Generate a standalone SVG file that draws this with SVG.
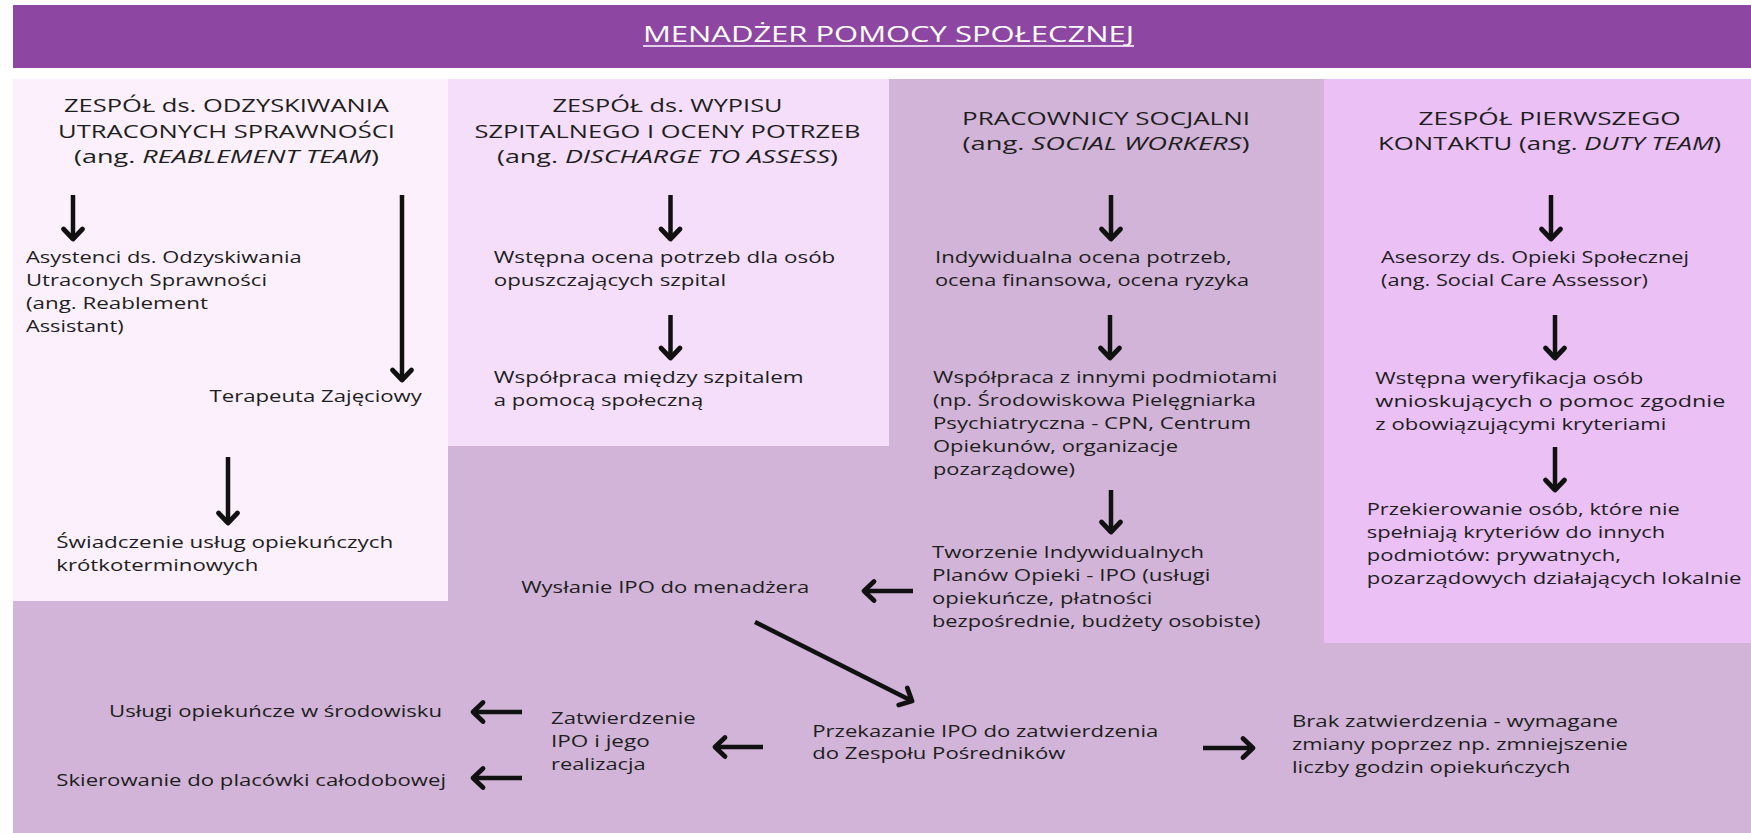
<svg xmlns="http://www.w3.org/2000/svg" width="1751" height="833" viewBox="0 0 1751 833">
  <defs>
    <style>
      .t { font-family: "Open Sans", "Liberation Sans", sans-serif; font-size: 17px; fill: #1e1e1e; }
      .h { font-family: "Open Sans", "Liberation Sans", sans-serif; font-size: 18px; fill: #1e1e1e; text-anchor: middle; }
      .i { font-style: italic; }
      .title { font-family: "Open Sans", "Liberation Sans", sans-serif; font-size: 21px; fill: #ffffff; text-anchor: middle; }
      .arr { fill: none; stroke: #111; stroke-width: 4.5; marker-end: url(#head); }
    </style>
    <marker id="head" markerUnits="userSpaceOnUse" markerWidth="30" markerHeight="30" viewBox="-15 -15 30 30" refX="0" refY="0" orient="auto">
      <path d="M-10,-9.5 L0,0 L-10,9.5" fill="none" stroke="#111" stroke-width="4.8" stroke-linecap="round" stroke-linejoin="round"/>
    </marker>
  </defs>

  <!-- page background and column panels -->
  <g id="panels">
    <rect x="0" y="0" width="1751" height="833" fill="#ffffff"/>
    <rect x="13" y="79" width="1738" height="754" fill="#d1b4d7"/>
    <rect x="13" y="79" width="435" height="522" fill="#fbf0fc"/>
    <rect x="448" y="79" width="441" height="367" fill="#f5defa"/>
    <rect x="1324" y="79" width="427" height="564" fill="#eac0f5"/>
  </g>

  <!-- header band -->
  <g id="manager">
    <rect x="13" y="5" width="1738" height="63" fill="#8e46a3"/>
    <text class="title" x="888.5" y="42" textLength="491" lengthAdjust="spacingAndGlyphs">MENADŻER POMOCY SPOŁECZNEJ</text>
    <line x1="643" y1="46" x2="1134" y2="46" stroke="#ffffff" stroke-width="1.6"/>
  </g>

  <!-- column headings -->
  <g id="reablement-team">
    <text class="h" x="226.5" y="112" textLength="325" lengthAdjust="spacingAndGlyphs">ZESPÓŁ ds. ODZYSKIWANIA</text>
    <text class="h" x="226.5" y="138" textLength="337" lengthAdjust="spacingAndGlyphs">UTRACONYCH SPRAWNOŚCI</text>
    <text class="h" x="226.5" y="163" textLength="305" lengthAdjust="spacingAndGlyphs">(ang. <tspan class="i">REABLEMENT TEAM</tspan>)</text>
  </g>
  <g id="discharge-team">
    <text class="h" x="667.5" y="112" textLength="230" lengthAdjust="spacingAndGlyphs">ZESPÓŁ ds. WYPISU</text>
    <text class="h" x="667.5" y="138" textLength="386" lengthAdjust="spacingAndGlyphs">SZPITALNEGO I OCENY POTRZEB</text>
    <text class="h" x="667.5" y="163" textLength="341" lengthAdjust="spacingAndGlyphs">(ang. <tspan class="i">DISCHARGE TO ASSESS</tspan>)</text>
  </g>
  <g id="social-workers">
    <text class="h" x="1106" y="125" textLength="288" lengthAdjust="spacingAndGlyphs">PRACOWNICY SOCJALNI</text>
    <text class="h" x="1106" y="150" textLength="287" lengthAdjust="spacingAndGlyphs">(ang. <tspan class="i">SOCIAL WORKERS</tspan>)</text>
  </g>
  <g id="duty-team">
    <text class="h" x="1549.6" y="125" textLength="262" lengthAdjust="spacingAndGlyphs">ZESPÓŁ PIERWSZEGO</text>
    <text class="h" x="1549.6" y="150" textLength="343" lengthAdjust="spacingAndGlyphs">KONTAKTU (ang. <tspan class="i">DUTY TEAM</tspan>)</text>
  </g>

  <!-- column 1 -->
  <g id="reablement-assistant">
    <text class="t" x="26" y="263" textLength="275.6" lengthAdjust="spacingAndGlyphs">Asystenci ds. Odzyskiwania</text>
    <text class="t" x="26" y="286" textLength="241" lengthAdjust="spacingAndGlyphs">Utraconych Sprawności</text>
    <text class="t" x="26" y="309" textLength="182" lengthAdjust="spacingAndGlyphs">(ang. Reablement</text>
    <text class="t" x="26" y="332" textLength="97.6" lengthAdjust="spacingAndGlyphs">Assistant)</text>
  </g>
  <g id="occupational-therapist">
    <text class="t" x="209.5" y="402" textLength="212.4" lengthAdjust="spacingAndGlyphs">Terapeuta Zajęciowy</text>
  </g>
  <g id="short-term-care">
    <text class="t" x="56.3" y="548" textLength="337" lengthAdjust="spacingAndGlyphs">Świadczenie usług opiekuńczych</text>
    <text class="t" x="56.3" y="571" textLength="202" lengthAdjust="spacingAndGlyphs">krótkoterminowych</text>
  </g>

  <!-- column 2 -->
  <g id="discharge-assessment">
    <text class="t" x="493.7" y="263" textLength="341.6" lengthAdjust="spacingAndGlyphs">Wstępna ocena potrzeb dla osób</text>
    <text class="t" x="493.7" y="286" textLength="232.5" lengthAdjust="spacingAndGlyphs">opuszczających szpital</text>
  </g>
  <g id="hospital-cooperation">
    <text class="t" x="493.7" y="383" textLength="310" lengthAdjust="spacingAndGlyphs">Współpraca między szpitalem</text>
    <text class="t" x="493.7" y="406" textLength="209.5" lengthAdjust="spacingAndGlyphs">a pomocą społeczną</text>
  </g>

  <!-- column 3 -->
  <g id="individual-assessment">
    <text class="t" x="935" y="263" textLength="296.8" lengthAdjust="spacingAndGlyphs">Indywidualna ocena potrzeb,</text>
    <text class="t" x="935" y="286" textLength="314" lengthAdjust="spacingAndGlyphs">ocena finansowa, ocena ryzyka</text>
  </g>
  <g id="partner-cooperation">
    <text class="t" x="933" y="383" textLength="344.4" lengthAdjust="spacingAndGlyphs">Współpraca z innymi podmiotami</text>
    <text class="t" x="933" y="406" textLength="323" lengthAdjust="spacingAndGlyphs">(np. Środowiskowa Pielęgniarka</text>
    <text class="t" x="933" y="429" textLength="318" lengthAdjust="spacingAndGlyphs">Psychiatryczna - CPN, Centrum</text>
    <text class="t" x="933" y="452" textLength="245" lengthAdjust="spacingAndGlyphs">Opiekunów, organizacje</text>
    <text class="t" x="933" y="475" textLength="142" lengthAdjust="spacingAndGlyphs">pozarządowe)</text>
  </g>
  <g id="care-plans">
    <text class="t" x="932" y="558" textLength="272" lengthAdjust="spacingAndGlyphs">Tworzenie Indywidualnych</text>
    <text class="t" x="932" y="581" textLength="278.4" lengthAdjust="spacingAndGlyphs">Planów Opieki - IPO (usługi</text>
    <text class="t" x="932" y="604" textLength="220.4" lengthAdjust="spacingAndGlyphs">opiekuńcze, płatności</text>
    <text class="t" x="932" y="627" textLength="328.4" lengthAdjust="spacingAndGlyphs">bezpośrednie, budżety osobiste)</text>
  </g>

  <!-- column 4 -->
  <g id="care-assessor">
    <text class="t" x="1381" y="263" textLength="308" lengthAdjust="spacingAndGlyphs">Asesorzy ds. Opieki Społecznej</text>
    <text class="t" x="1381" y="286" textLength="267" lengthAdjust="spacingAndGlyphs">(ang. Social Care Assessor)</text>
  </g>
  <g id="eligibility-check">
    <text class="t" x="1375.3" y="384" textLength="268" lengthAdjust="spacingAndGlyphs">Wstępna weryfikacja osób</text>
    <text class="t" x="1375.3" y="407" textLength="350" lengthAdjust="spacingAndGlyphs">wnioskujących o pomoc zgodnie</text>
    <text class="t" x="1375.3" y="430" textLength="291" lengthAdjust="spacingAndGlyphs">z obowiązującymi kryteriami</text>
  </g>
  <g id="signposting">
    <text class="t" x="1366.7" y="515" textLength="313" lengthAdjust="spacingAndGlyphs">Przekierowanie osób, które nie</text>
    <text class="t" x="1366.7" y="538" textLength="298.5" lengthAdjust="spacingAndGlyphs">spełniają kryteriów do innych</text>
    <text class="t" x="1366.7" y="561" textLength="254.3" lengthAdjust="spacingAndGlyphs">podmiotów: prywatnych,</text>
    <text class="t" x="1366.7" y="584" textLength="374.8" lengthAdjust="spacingAndGlyphs">pozarządowych działających lokalnie</text>
  </g>

  <!-- approval flow -->
  <g id="send-to-manager">
    <text class="t" x="521.2" y="593" textLength="288" lengthAdjust="spacingAndGlyphs">Wysłanie IPO do menadżera</text>
  </g>
  <g id="brokerage-team">
    <text class="t" x="812.3" y="737" textLength="346" lengthAdjust="spacingAndGlyphs">Przekazanie IPO do zatwierdzenia</text>
    <text class="t" x="812.3" y="759" textLength="253" lengthAdjust="spacingAndGlyphs">do Zespołu Pośredników</text>
  </g>
  <g id="rejected">
    <text class="t" x="1292" y="727" textLength="326" lengthAdjust="spacingAndGlyphs">Brak zatwierdzenia - wymagane</text>
    <text class="t" x="1292" y="750" textLength="335.8" lengthAdjust="spacingAndGlyphs">zmiany poprzez np. zmniejszenie</text>
    <text class="t" x="1292" y="773" textLength="278.4" lengthAdjust="spacingAndGlyphs">liczby godzin opiekuńczych</text>
  </g>
  <g id="approved">
    <text class="t" x="551" y="724" textLength="144.7" lengthAdjust="spacingAndGlyphs">Zatwierdzenie</text>
    <text class="t" x="551" y="747" textLength="98.7" lengthAdjust="spacingAndGlyphs">IPO i jego</text>
    <text class="t" x="551" y="770" textLength="94.7" lengthAdjust="spacingAndGlyphs">realizacja</text>
  </g>
  <g id="community-care">
    <text class="t" x="109" y="717" textLength="333" lengthAdjust="spacingAndGlyphs">Usługi opiekuńcze w środowisku</text>
  </g>
  <g id="residential-care">
    <text class="t" x="56.3" y="786" textLength="389.7" lengthAdjust="spacingAndGlyphs">Skierowanie do placówki całodobowej</text>
  </g>

  <!-- connectors -->
  <g id="connectors">
    <path class="arr" d="M73,195 L73,239"/>
    <path class="arr" d="M402,195 L402,380"/>
    <path class="arr" d="M228,457 L228,523"/>
    <path class="arr" d="M670.5,195 L670.5,239"/>
    <path class="arr" d="M670.5,315 L670.5,358"/>
    <path class="arr" d="M1111,195 L1111,239"/>
    <path class="arr" d="M1110,315 L1110,358"/>
    <path class="arr" d="M1111,490 L1111,532"/>
    <path class="arr" d="M1551,195 L1551,239"/>
    <path class="arr" d="M1555,315 L1555,358"/>
    <path class="arr" d="M1555,447 L1555,490"/>
    <path class="arr" d="M913,591 L864,591"/>
    <path class="arr" d="M755,622 L912,701"/>
    <path class="arr" d="M1203,748 L1253,748"/>
    <path class="arr" d="M763,747 L715,747"/>
    <path class="arr" d="M522,712 L473,712"/>
    <path class="arr" d="M522,778 L473,778"/>
  </g>
</svg>
